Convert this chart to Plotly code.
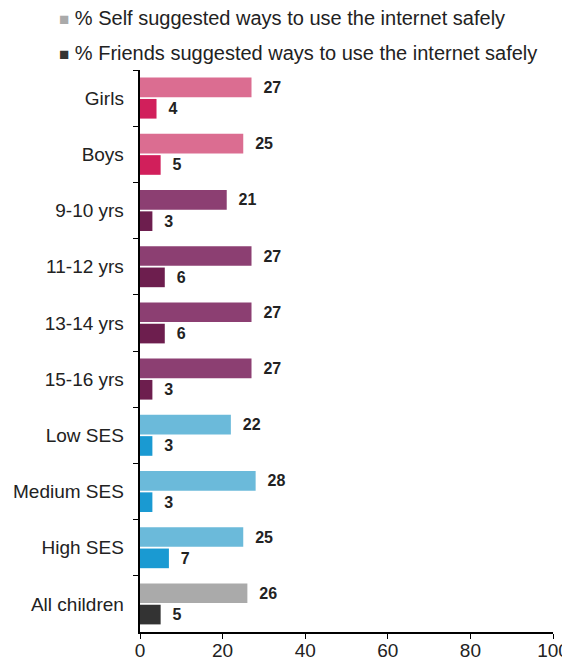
import plotly.graph_objects as go

groups = ["Girls", "Boys", "9-10 yrs", "11-12 yrs", "13-14 yrs", "15-16 yrs",
          "Low SES", "Medium SES", "High SES", "All children"]
self_pct = [27, 25, 21, 27, 27, 27, 22, 28, 25, 26]
friends_pct = [4, 5, 3, 6, 6, 3, 3, 3, 7, 5]

self_colors = ["#DB6D91", "#DB6D91", "#8C3F72", "#8C3F72", "#8C3F72", "#8C3F72",
               "#6BBADA", "#6BBADA", "#6BBADA", "#AAAAAA"]
friend_colors = ["#D11F5B", "#D11F5B", "#6D1E4E", "#6D1E4E", "#6D1E4E", "#6D1E4E",
                 "#1A9AD2", "#1A9AD2", "#1A9AD2", "#333333"]

legend_names = ["% Self suggested ways to use the internet safely",
                "% Friends suggested ways to use the internet safely"]
legend_colors = ["#AAAAAA", "#333333"]

font = "Liberation Sans, Arial, sans-serif"

fig = go.Figure()
fig.add_trace(go.Bar(y=groups, x=self_pct, orientation="h",
                     name=legend_names[0],
                     marker=dict(color=self_colors, line=dict(width=0)),
                     texttemplate="  <b>%{x}</b>",
                     textposition="outside", cliponaxis=False, constraintext="none",
                     textfont=dict(size=16, color="#222222", family=font),
                     hoverinfo="x+y"))
fig.add_trace(go.Bar(y=groups, x=friends_pct, orientation="h",
                     name=legend_names[1],
                     marker=dict(color=friend_colors, line=dict(width=0)),
                     texttemplate="  <b>%{x}</b>",
                     textposition="outside", cliponaxis=False, constraintext="none",
                     textfont=dict(size=16, color="#222222", family=font),
                     hoverinfo="x+y"))

# legend drawn as text rows at the top
for i, (name, col) in enumerate(zip(legend_names, legend_colors)):
    fig.add_annotation(
        xref="paper", yref="paper", x=-0.2, y=1.093 - i * 0.0625,
        xanchor="left", yanchor="middle", showarrow=False,
        text=f"<span style='color:{col};font-size:17px'>■</span> {name}",
        font=dict(size=20, color="#222222", family=font))

fig.update_layout(
    width=570, height=663,
    margin=dict(l=132, r=25, t=62, b=39, autoexpand=False),
    paper_bgcolor="white", plot_bgcolor="white",
    font=dict(family=font, size=19, color="#222222"),
    barmode="group", bargap=0.24, bargroupgap=0.08,
    showlegend=False,
)
fig.update_xaxes(range=[0, 100], tickvals=[0, 20, 40, 60, 80, 100],
                 showgrid=False, zeroline=False, showline=True,
                 linecolor="black", linewidth=1.5, ticks="outside",
                 ticklen=5, tickcolor="black", ticklabelstandoff=-5,
                 tickfont=dict(size=19, color="#222222"))
fig.update_yaxes(autorange="reversed", type="category", showgrid=False,
                 showline=True, linecolor="black", linewidth=1.5,
                 ticks="outside", tickson="boundaries", ticklen=5,
                 tickcolor="black", tickfont=dict(size=19, color="#222222"),
                 ticksuffix="  ")

fig.write_html("out.html")
